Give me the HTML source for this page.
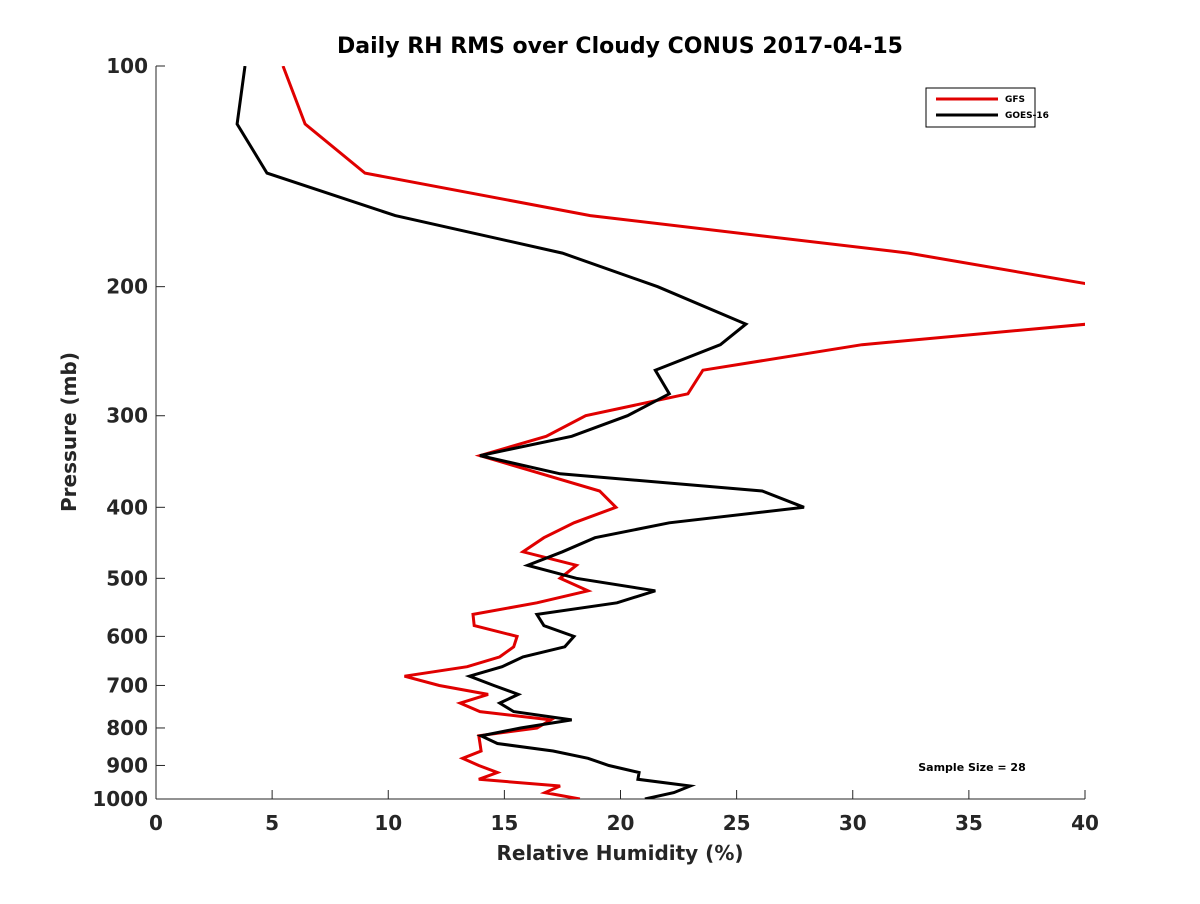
<!DOCTYPE html>
<html><head><meta charset="utf-8"><style>
body{margin:0;background:#fff;font-family:"DejaVu Sans","Liberation Sans",sans-serif}
svg text{font-family:"DejaVu Sans","Liberation Sans",sans-serif;fill:#262626;font-weight:bold}
</style></head><body>
<svg id="chart" width="1200" height="900" xmlns="http://www.w3.org/2000/svg">
<rect width="1200" height="900" fill="#fff"/>
<defs><clipPath id="clip"><rect x="156" y="66" width="929" height="733"/></clipPath></defs>
<text x="620" y="53" font-size="22" text-anchor="middle" style="fill:#000">Daily RH RMS over Cloudy CONUS 2017-04-15</text>
<g id="axes"></g>
<g id="series" clip-path="url(#clip)"></g>
<text x="620" y="860" font-size="20" text-anchor="middle">Relative Humidity (%)</text>
<text transform="translate(76,432) rotate(-90)" font-size="20" text-anchor="middle">Pressure (mb)</text>
<text x="972" y="771" font-size="11" text-anchor="middle" style="fill:#000">Sample Size = 28</text>
<g>
<rect x="926" y="88" width="109" height="39" fill="#fff" stroke="#000" stroke-width="1"/>
<line x1="936" y1="99" x2="998" y2="99" stroke="#e00000" stroke-width="3"/>
<text x="1005" y="102" font-size="9" style="fill:#000">GFS</text>
<line x1="936" y1="115" x2="998" y2="115" stroke="#000" stroke-width="3"/>
<text x="1005" y="118" font-size="9" style="fill:#000">GOES-16</text>
</g>
</svg>
<script>
const pressures=[100,120,140,160,180,200,225,240,260,280,300,320,340,360,380,400,420,440,460,480,500,520,540,560,580,600,620,640,660,680,700,720,740,760,780,800,820,840,860,880,900,920,940,960,980,1000];
const gfsRms=[5.47,6.42,9.0,18.7,32.4,40.8,40.1,30.4,23.55,22.9,18.5,16.8,13.95,16.6,19.1,19.8,18.0,16.7,15.8,18.1,17.4,18.6,16.4,13.65,13.7,15.55,15.4,14.8,13.4,10.7,12.2,14.3,13.1,13.95,17.0,16.4,13.9,13.95,14.0,13.2,13.9,14.7,13.9,17.4,16.75,18.25];
const goesRms=[3.83,3.49,4.78,10.3,17.5,21.6,25.4,24.3,21.5,22.1,20.3,17.9,13.95,17.4,26.1,27.9,22.1,18.9,17.5,16.0,18.1,21.5,19.85,16.4,16.7,18.0,17.6,15.8,14.9,13.5,14.55,15.6,14.8,15.4,17.9,15.7,14.0,14.7,17.1,18.6,19.5,20.8,20.75,23.0,22.3,21.05];
const xTicks=[0,5,10,15,20,25,30,35,40];
const yTicks=[100,200,300,400,500,600,700,800,900,1000];
const NS="http://www.w3.org/2000/svg";
const X0=156,X1=1085,Y0=66,Y1=799;
function xs(v){return X0+(v-0)/(40-0)*(X1-X0);}
function ys(p){return Y0+(Math.log10(p)-2)/1*(Y1-Y0);}
function mk(tag,attrs,parent){const e=document.createElementNS(NS,tag);for(const k in attrs)e.setAttribute(k,attrs[k]);parent.appendChild(e);return e;}
const axes=document.getElementById('axes');
const xl=mk('line',{x1:X0,y1:Y1,x2:X1,y2:Y1,stroke:'#262626','stroke-width':1},axes);


const yl=mk('line',{x1:X0,y1:Y0,x2:X0,y2:Y1,stroke:'#262626','stroke-width':1},axes);


xTicks.forEach(v=>{
  const x=xs(v);
  mk('line',{x1:x,y1:Y1,x2:x,y2:Y1-9,stroke:'#262626'},axes);
  const t=mk('text',{x:x,y:Y1+31,'font-size':20,'text-anchor':'middle'},axes);
  t.textContent=v;
  
  
});
yTicks.forEach(p=>{
  const y=ys(p);
  mk('line',{x1:X0,y1:y,x2:X0+9,y2:y,stroke:'#262626'},axes);
  const t=mk('text',{x:X0-8,y:y+7,'font-size':20,'text-anchor':'end'},axes);
  t.textContent=p;
  
  
});
const ser=document.getElementById('series');
function line(vals,color,name){
  const pts=vals.map((v,i)=>xs(v).toFixed(1)+','+ys(pressures[i]).toFixed(1)).join(' ');
  const pl=mk('polyline',{points:pts,fill:'none',stroke:color,'stroke-width':3,'stroke-linejoin':'miter'},ser);
  
  
}
line(gfsRms,'#e00000','gfs-line');
line(goesRms,'#000000','goes16-line');
</script>
</body></html>
